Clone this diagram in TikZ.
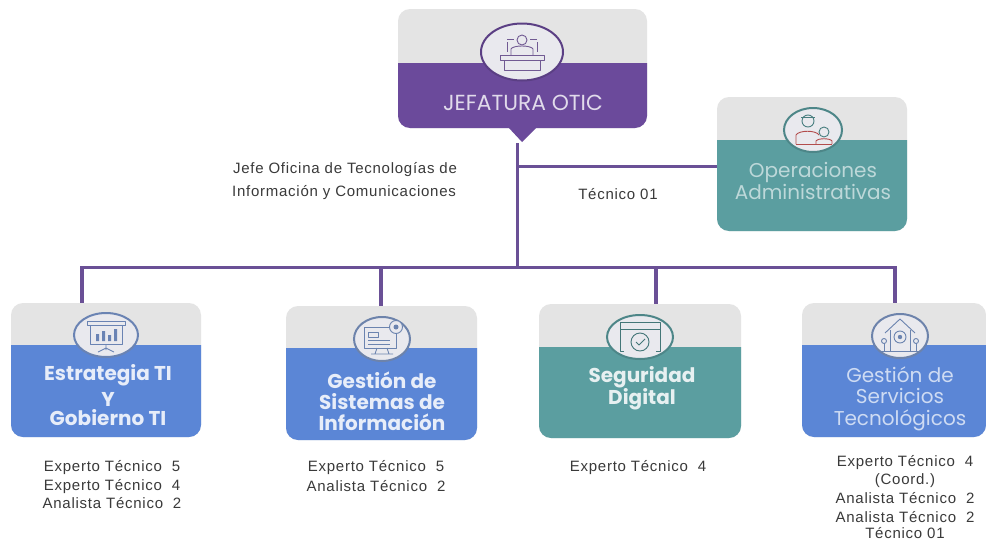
\documentclass[tikz,border=0pt]{standalone}
\usepackage{fontspec}
\setmainfont{Liberation Sans}
\newfontfamily\pop{Poppins}
\newfontfamily\notefont[LetterSpace=5]{Liberation Sans}
\usetikzlibrary{calc}
\definecolor{violet1}{HTML}{6B4A9B}
\definecolor{linev}{HTML}{6A5096}
\definecolor{teal1}{HTML}{5B9EA0}
\definecolor{blue1}{HTML}{5B86D6}
\definecolor{gray1}{HTML}{E4E4E4}
\definecolor{disc}{HTML}{E9E9EE}
\definecolor{txt}{HTML}{3A3A3A}
\tikzset{
  cardbox/.style={draw=none,fill=gray1,rounded corners=12pt,inner sep=0pt},
  conn/.style={draw=linev,line width=3pt},
  drop/.style={draw=linev,line width=3.6pt},
  note/.style={font=\notefont\fontsize{15}{18}\selectfont,text=txt,align=center,inner sep=0pt},
  ctitle/.style={font=\pop\fontsize{20}{21.5}\selectfont,align=center,inner sep=0pt},
  ctitleb/.style={font=\pop\bfseries\fontsize{20}{21.5}\selectfont,align=center,inner sep=0pt},
  iconline/.style={line width=0.9pt,line join=round}
}
% name x0 y0 x1 y1 ydiv colour
\newcommand{\cardbox}[7]{%
  \pgfmathsetmacro{\cw}{#4-#2}\pgfmathsetmacro{\ch}{#5-#3}%
  \node[cardbox,minimum width=\cw pt,minimum height=\ch pt] (#1) at ({(#2+#4)/2},{(#3+#5)/2}) {};
  \fill[#7] (#2,#6) -- (#4,#6) [rounded corners=12pt] -- (#4,#5) -- (#2,#5) [sharp corners] -- cycle;
}
\begin{document}
\begin{tikzpicture}[x=1pt,y=-1pt]
\useasboundingbox (0,0) rectangle (986,541);
\fill[white] (0,0) rectangle (986,541);
% cards
\cardbox{jef}{398}{9}{647}{128}{63}{violet1}
\cardbox{ope}{717}{97}{907}{231}{140}{teal1}
\cardbox{est}{11}{303}{201}{437}{345}{blue1}
\cardbox{sis}{286}{306}{477}{440}{348}{blue1}
\cardbox{seg}{539}{304}{741}{438}{347}{teal1}
\cardbox{ser}{802}{303}{986}{437}{345}{blue1}
% connectors
\coordinate (tk) at (517,143);
\coordinate (bus) at (517,267);
\coordinate (bra) at (517,166);
\coordinate (busl) at (82,267);
\coordinate (busr) at (895,267);
\coordinate (d2) at (381,267);
\coordinate (d3) at (656,267);
\draw[conn] (tk) -- (bus);
\draw[conn] (bra) -- (bra -| ope.west);
\draw[conn] ($(busl)+(-2,0)$) -- ($(busr)+(2,0)$);
\draw[drop] (busl) -- (busl |- est.north);
\draw[drop] (d2) -- (d2 |- sis.north);
\draw[drop] (d3) -- (d3 |- seg.north);
\draw[drop] (busr) -- (busr |- ser.north);
% pointer under top card
\fill[violet1] (508,127) -- (537,127) -- (522,142) -- cycle;
% discs
\filldraw[fill=disc,draw=violet1!85!black,line width=2pt] (522,52) ellipse (41 and 28.5);
\filldraw[fill=disc,draw=teal1!85!black,line width=2pt] (813,130) ellipse (29 and 22);
\filldraw[fill=disc,draw=blue1!60!gray,line width=2pt] (106,335) ellipse (32 and 22);
\filldraw[fill=disc,draw=blue1!50!gray,line width=2pt] (382,339) ellipse (28 and 22);
\filldraw[fill=disc,draw=teal1!85!black,line width=2pt] (640,337) ellipse (33 and 22);
\filldraw[fill=disc,draw=blue1!50!gray,line width=2pt] (900,336) ellipse (28 and 22);
% icon: podium
\begin{scope}[shift={(522,50)},iconline,draw=violet1!70!gray]
\draw (0,-10) circle (5);
\draw (-15,-8) -- (-15,2) (15,-8) -- (15,2) (-15,-11) -- (-8,-11) (15,-11) -- (8,-11);
\draw (-11,5) -- (-11,-1) .. controls (-9,-5) and (9,-5) .. (11,-1) -- (11,5);
\draw (-22,5) rectangle (22,10);
\draw (-18,10) rectangle (18,20);
\end{scope}
% icon: staff
\begin{scope}[shift={(813,130)},iconline]
\draw[draw=teal1!80!black] (-5,-9) circle (6);
\draw[draw=teal1!80!black] (-12,-13) -- (2,-13);
\draw[draw=red!40!gray] (-17,14) -- (-17,5) .. controls (-14,0) and (3,0) .. (6,5);
\draw[draw=teal1!80!black] (11,2) circle (5);
\draw[draw=red!40!gray] (3,14) -- (3,11) .. controls (5,8) and (17,8) .. (19,11) -- (19,14);
\draw[draw=red!40!gray] (-17,14) -- (19,14);
\end{scope}
% icon: presentation board
\begin{scope}[shift={(106,335)},iconline,draw=blue1!60!gray]
\draw (-19,-14) rectangle (19,-10);
\draw (-16,-10) rectangle (16,9);
\fill[blue1!60!gray] (-10,-1) rectangle (-7,6) (-4,-4) rectangle (-1,6) (2,0) rectangle (5,6) (8,-6) rectangle (11,6);
\draw (0,9) -- (0,15) (-8,17) -- (0,13) -- (8,17);
\end{scope}
% icon: monitor with gear
\begin{scope}[shift={(382,339)},iconline,draw=blue1!55!gray]
\draw (-18,-12) rectangle (14,9);
\draw (-14,-7) rectangle (-4,-2);
\draw (-14,1) -- (8,1) (-14,5) -- (8,5);
\draw (-5,9) -- (-7,15) (5,9) -- (7,15) (-11,15) -- (11,15);
\filldraw[fill=disc] (14,-12) circle (6.5);
\fill[blue1!55!gray] (14,-12) circle (2.5);
\end{scope}
% icon: browser with shield
\begin{scope}[shift={(640,337)},iconline,draw=teal1!75!black]
\draw (-16,14) -- (-20,14) -- (-20,-15) -- (20,-15) -- (20,14) -- (16,14);
\draw (-20,-8) -- (20,-8);
\draw (0,5) circle (9);
\draw (-4,5) -- (-1,8) -- (5,2);
\end{scope}
% icon: house with gear
\begin{scope}[shift={(900,336)},iconline,draw=blue1!55!gray]
\draw (-15,-3) -- (0,-17) -- (15,-3);
\draw (-10,-6) -- (-10,15) -- (10,15) -- (10,-6);
\draw (0,1) circle (6);
\fill[blue1!55!gray] (0,1) circle (2.2);
\draw (-21,15) -- (21,15) (-16,15) -- (-16,7) (16,15) -- (16,7);
\draw (-16,5) circle (2.5) (16,5) circle (2.5);
\end{scope}
% card titles
\node[ctitle,text=violet1!20!white,font=\pop\fontsize{21.8}{24}\selectfont] (tjef) at (523,103) {JEFATURA OTIC};
\node[ctitle,text=teal1!40!white,font=\pop\fontsize{20}{22}\selectfont] (tope) at (813,181) {Operaciones\\Administrativas};
\node[ctitleb,text=blue1!15!white] (test) at (108,375) {Estrategia TI};
\node[ctitleb,text=blue1!15!white] (testy) at (108,399) {Y};
\node[ctitleb,text=blue1!15!white] (testg) at (108,418) {Gobierno TI};
\node[ctitleb,text=blue1!15!white,font=\pop\bfseries\fontsize{20}{21}\selectfont] (tsis) at (382,401) {Gestión de\\Sistemas de\\Información};
\node[ctitleb,text=teal1!15!white,font=\pop\bfseries\fontsize{20}{21}\selectfont] (tseg) at (642,388) {Seguridad\\Digital};
\node[ctitle,text=blue1!30!white,font=\pop\fontsize{20}{21.5}\selectfont] (tser) at (900,398.5) {Gestión de\\Servicios\\Tecnológicos};
% notes
\node[note] (n1) at (345,170) {Jefe Oficina de Tecnologías de};
\node[note] (n2) at (344,193) {Información y Comunicaciones};
\node[note] (n3) at (618,194) {Técnico 01};
\node[note] (a1) at (112,468) {Experto Técnico\ \ 5};
\node[note] (a2) at (112,487) {Experto Técnico\ \ 4};
\node[note] (a3) at (112,503) {Analista Técnico\ \ 2};
\node[note] (b1) at (376,468) {Experto Técnico\ \ 5};
\node[note] (b2) at (376,486) {Analista Técnico\ \ 2};
\node[note] (c1) at (638,468) {Experto Técnico\ \ 4};
\node[note] (e1) at (905,463) {Experto Técnico\ \ 4};
\node[note] (e2) at (905,481) {(Coord.)};
\node[note] (e3) at (905,498) {Analista Técnico\ \ 2};
\node[note] (e4) at (905,517) {Analista Técnico\ \ 2};
\node[note] (e5) at (905,533) {Técnico 01};
\end{tikzpicture}
\end{document}
